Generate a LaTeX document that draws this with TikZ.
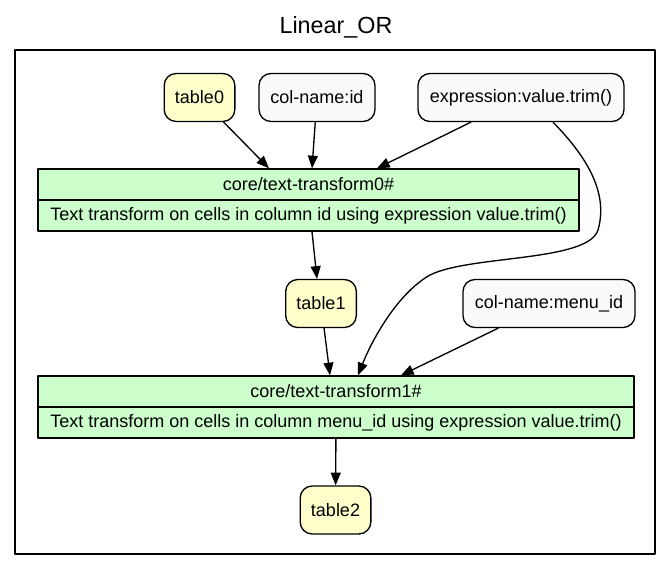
\documentclass[tikz,border=0pt]{standalone}
\usepackage{fontspec}
\setmainfont{Liberation Sans}
\usepackage{tikz}
\usetikzlibrary{arrows.meta}
\definecolor{ffffcc}{rgb}{1.0,1.0,0.8}
\definecolor{ccffcc}{rgb}{0.8,1.0,0.8}
\definecolor{fafafa}{rgb}{0.98,0.98,0.98}
\tikzset{
  tablenode/.style={draw,line width=1pt,rounded corners=9pt,fill=ffffcc,minimum height=36pt,minimum width=53pt,inner sep=0pt,font=\fontsize{13.5}{16}\selectfont},
  paramnode/.style={tablenode,fill=fafafa},
  opnode/.style={draw,line width=1pt,fill=ccffcc,minimum height=23.25pt,inner sep=0pt,font=\fontsize{13.5}{16}\selectfont},
  flow/.style={->,line width=1pt}
}
\begin{document}
\begin{tikzpicture}[line cap=round,line join=round,>={Triangle[length=9.5pt,width=7.5pt]},x=0.75pt,y=-0.75pt]
\useasboundingbox (0,0) rectangle (672,572);
\node[anchor=base,font=\fontsize{17.5}{21}\selectfont] (title) at (336,33) {Linear\_OR};
\draw[line width=2pt] (15,50) rectangle (655,554);
% inputs
\node[tablenode] (table0) at (199.5,97.5) {table0};
\node[paramnode,minimum width=87pt] (colid) at (317,97.5) {col-name:id};
\node[paramnode,minimum width=154.5pt] (expr) at (521,97.5) {expression:value.trim()};
% first operation
\node[opnode,minimum width=405.75pt] (t0head) at (308.5,184.5) {core/text-transform0\#};
\node[opnode,minimum width=405.75pt] (t0body) at (308.5,215.5) {Text transform on cells in column id using expression value.trim()};
\node[tablenode] (table1) at (321,303.5) {table1};
\node[paramnode,minimum width=129pt] (menuid) at (549,303.5) {col-name:menu\_id};
% second operation
\node[opnode,minimum width=447pt] (t1head) at (336,391.5) {core/text-transform1\#};
\node[opnode,minimum width=447pt] (t1body) at (336,422.5) {Text transform on cells in column menu\_id using expression value.trim()};
\node[tablenode] (table2) at (335.5,510) {table2};
% edges
\draw[flow] (table0) -- ([shift={(-39.5,0)}]t0head.north);
\draw[flow] (colid) -- ([shift={(3.5,0)}]t0head.north);
\draw[flow] (expr) -- ([shift={(68.5,0)}]t0head.north);
\draw[flow] ([shift={(3.5,0)}]t0body.south) -- ([shift={(-4,0)}]table1.north);
\draw[flow] ([shift={(32,0)}]expr.south) .. controls (590,160) and (608,195) .. (598,230)
  .. controls (588,262) and (470,255) .. (430,275)
  .. controls (395,295) and (370,345) .. ([shift={(22,0)}]t1head.north);
\draw[flow] (table1) -- ([shift={(-6,0)}]t1head.north);
\draw[flow] (menuid) -- ([shift={(65,0)}]t1head.north);
\draw[flow] (t1body) -- (table2);
\end{tikzpicture}
\end{document}
